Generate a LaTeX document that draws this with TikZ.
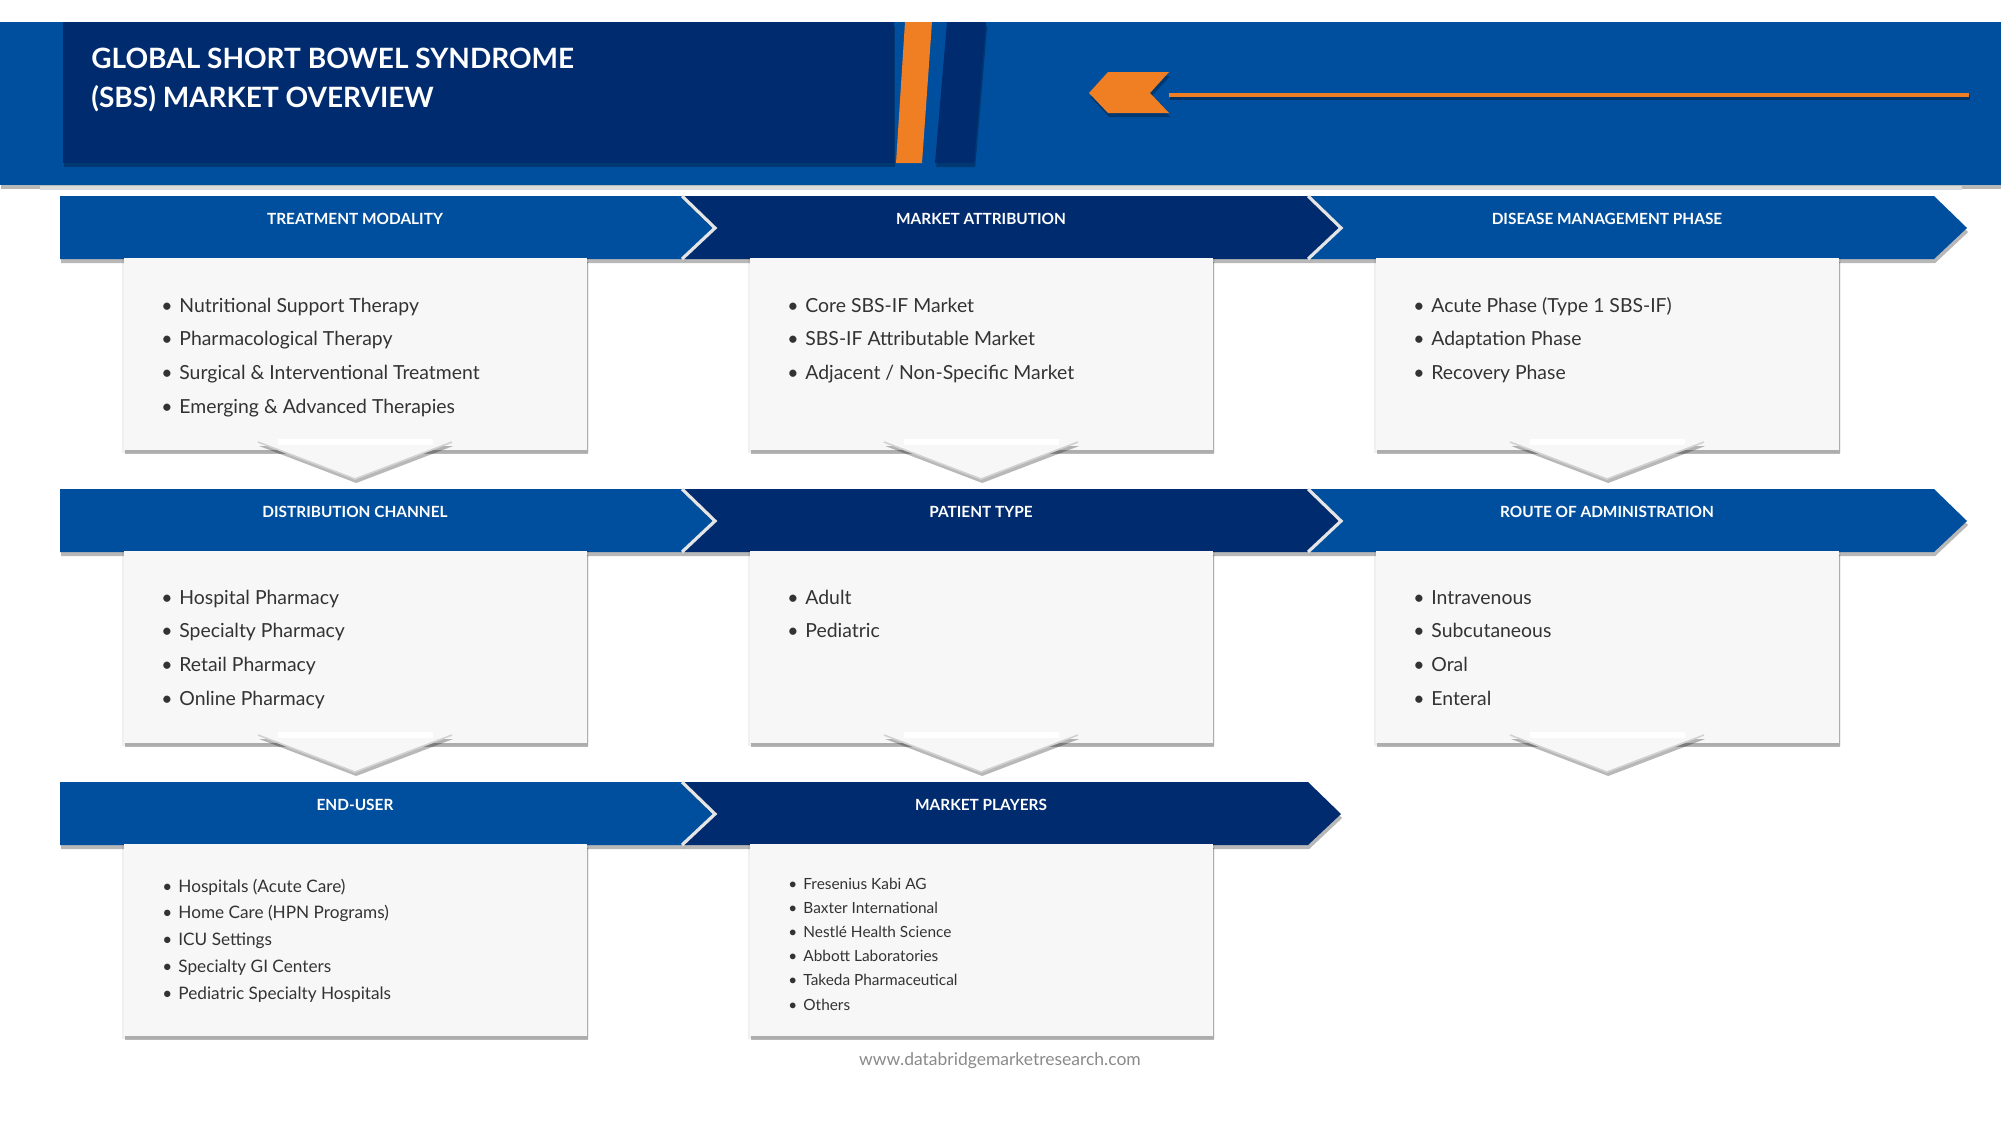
\documentclass[tikz,border=0pt]{standalone}
\usepackage{fontspec}
\setmainfont{Lato}
\usetikzlibrary{shadows}
\definecolor{lblue}{HTML}{004F9E}
\definecolor{navy}{HTML}{002B6F}
\definecolor{orng}{HTML}{F07E22}
\definecolor{boxfill}{HTML}{F7F7F7}
\definecolor{txt}{HTML}{333333}
\definecolor{foot}{HTML}{8A8A8A}
\newcommand\itemlist[7]{%
  \foreach \t [count=\k] in {#7}
    \node[#5] (#1\k) at (#2,{#3+(\k-1)*#4}) {\makebox[#6][l]{•}\t};}
\newcommand\bannerfirst[3]{%
  \fill[#3,shad] (#1,#2) -- ++(622,0) -- ++(33,32) -- ++(-33,31) -- ++(-622,0) -- cycle;}
\newcommand\bannermid[3]{%
  \fill[#3,shad] (#1,#2) -- ++(626,0) -- ++(33,32) -- ++(-33,31) -- ++(-626,0) -- ++(33,-31) -- cycle;}
\newcommand\notchline[2]{%
  \draw[white!80!gray, line width=1.6pt, line join=miter] (#1,#2) -- ++(33,32) -- ++(-33,31);}
\newcommand\contentbox[2]{%
  \fill[black,opacity=0.06] ({#1-2},#2) rectangle ++(467,195);
  \fill[boxfill,shad] (#1,#2) rectangle ++(463,192);}
\newcommand\downtri[2]{%
  \fill[boxfill,shad] ({#1-97},#2) -- ({#1+97},#2) -- (#1,{#2+37}) -- cycle;
  \draw[gray!35, line width=0.8pt] ({#1-97},#2) -- (#1,{#2+37}) -- ({#1+97},#2);
  \fill[white] ({#1-77},{#2-3}) rectangle ({#1+78},{#2+3});}
\begin{document}
\begin{tikzpicture}[x=0.5pt,y=-0.5pt,
  shad/.style={drop shadow={shadow xshift=0.6pt,shadow yshift=-2pt,opacity=0.28,fill=black}},
  titletxt/.style={font=\fontsize{14}{17}\selectfont\bfseries, text=white, anchor=base west, inner sep=0},
  bannertxt/.style={font=\fontsize{7.7}{9}\selectfont\bfseries, text=white, anchor=base, inner sep=0},
  itemA/.style={font=\fontsize{9.7}{12}\selectfont, text=txt, anchor=base west, inner sep=0},
  itemB/.style={font=\fontsize{8.6}{11}\selectfont, text=txt, anchor=base west, inner sep=0},
  itemC/.style={font=\fontsize{7.7}{9}\selectfont, text=txt, anchor=base west, inner sep=0},
  foottxt/.style={font=\fontsize{8.75}{11}\selectfont, text=foot, anchor=base, inner sep=0}]
\useasboundingbox (0,0) rectangle (2001,1125);
\fill[white] (0,0) rectangle (2001,1125);
% header
\fill[lblue,shad] (0,22) rectangle (2001,185);
\fill[gray!28] (40,186) rectangle (1962,190);
\fill[navy,shad] (63,22) rectangle (894,163);
\fill[orng] (905,22) -- (932,22) -- (922,163) -- (896,163) -- cycle;
\fill[navy,shad] (947,22) -- (986,22) -- (974,163) -- (935,163) -- cycle;
\node[titletxt] (title1) at (91,68) {GLOBAL SHORT BOWEL SYNDROME};
\node[titletxt] (title2) at (91,107) {(SBS) MARKET OVERVIEW};
\fill[orng,shad] (1108,72) -- (1169,72) -- (1150,93) -- (1169,113) -- (1108,113) -- (1089,93) -- cycle;
\draw[black, opacity=0.35, line width=2.2pt] (1170,97.5) -- (1970,97.5);
\draw[orng, line width=2.2pt] (1169,95) -- (1969,95);
% row 1
\bannerfirst{60}{196}{lblue}
\bannermid{682}{196}{navy}
\bannermid{1308}{196}{lblue}
\notchline{682}{196}
\notchline{1308}{196}
\node[bannertxt] (b11) at (355,224) {TREATMENT MODALITY};
\node[bannertxt] (b12) at (981,224) {MARKET ATTRIBUTION};
\node[bannertxt] (b13) at (1607,224) {DISEASE MANAGEMENT PHASE};
\contentbox{124}{258}
\contentbox{750}{258}
\contentbox{1376}{258}
\downtri{355}{442}
\downtri{981}{442}
\downtri{1607}{442}
\itemlist{pa}{161}{312}{33.7}{itemA}{9pt}{Nutritional Support Therapy, Pharmacological Therapy, Surgical \& Interventional Treatment, Emerging \& Advanced Therapies}
\itemlist{pb}{787}{312}{33.7}{itemA}{9pt}{Core SBS-IF Market, SBS-IF Attributable Market, Adjacent / Non-Specific Market}
\itemlist{pc}{1413}{312}{33.7}{itemA}{9pt}{Acute Phase (Type 1 SBS-IF), Adaptation Phase, Recovery Phase}
% row 2
\bannerfirst{60}{489}{lblue}
\bannermid{682}{489}{navy}
\bannermid{1308}{489}{lblue}
\notchline{682}{489}
\notchline{1308}{489}
\node[bannertxt] (b21) at (355,517) {DISTRIBUTION CHANNEL};
\node[bannertxt] (b22) at (981,517) {PATIENT TYPE};
\node[bannertxt] (b23) at (1607,517) {ROUTE OF ADMINISTRATION};
\contentbox{124}{551}
\contentbox{750}{551}
\contentbox{1376}{551}
\downtri{355}{735}
\downtri{981}{735}
\downtri{1607}{735}
\itemlist{qa}{161}{604}{33.7}{itemA}{9pt}{Hospital Pharmacy, Specialty Pharmacy, Retail Pharmacy, Online Pharmacy}
\itemlist{qb}{787}{604}{33.7}{itemA}{9pt}{Adult, Pediatric}
\itemlist{qc}{1413}{604}{33.7}{itemA}{9pt}{Intravenous, Subcutaneous, Oral, Enteral}
% row 3
\bannerfirst{60}{782}{lblue}
\bannermid{682}{782}{navy}
\notchline{682}{782}
\node[bannertxt] (b31) at (355,810) {END-USER};
\node[bannertxt] (b32) at (981,810) {MARKET PLAYERS};
\contentbox{124}{844}
\contentbox{750}{844}
\itemlist{ra}{162}{892}{26.8}{itemB}{8pt}{Hospitals (Acute Care), Home Care (HPN Programs), ICU Settings, Specialty GI Centers, Pediatric Specialty Hospitals}
\itemlist{rb}{788}{889}{24.2}{itemC}{7.5pt}{Fresenius Kabi AG, Baxter International, Nestlé Health Science, Abbott Laboratories, Takeda Pharmaceutical, Others}
\node[foottxt] (footer) at (1000,1065) {www.databridgemarketresearch.com};
\end{tikzpicture}
\end{document}
